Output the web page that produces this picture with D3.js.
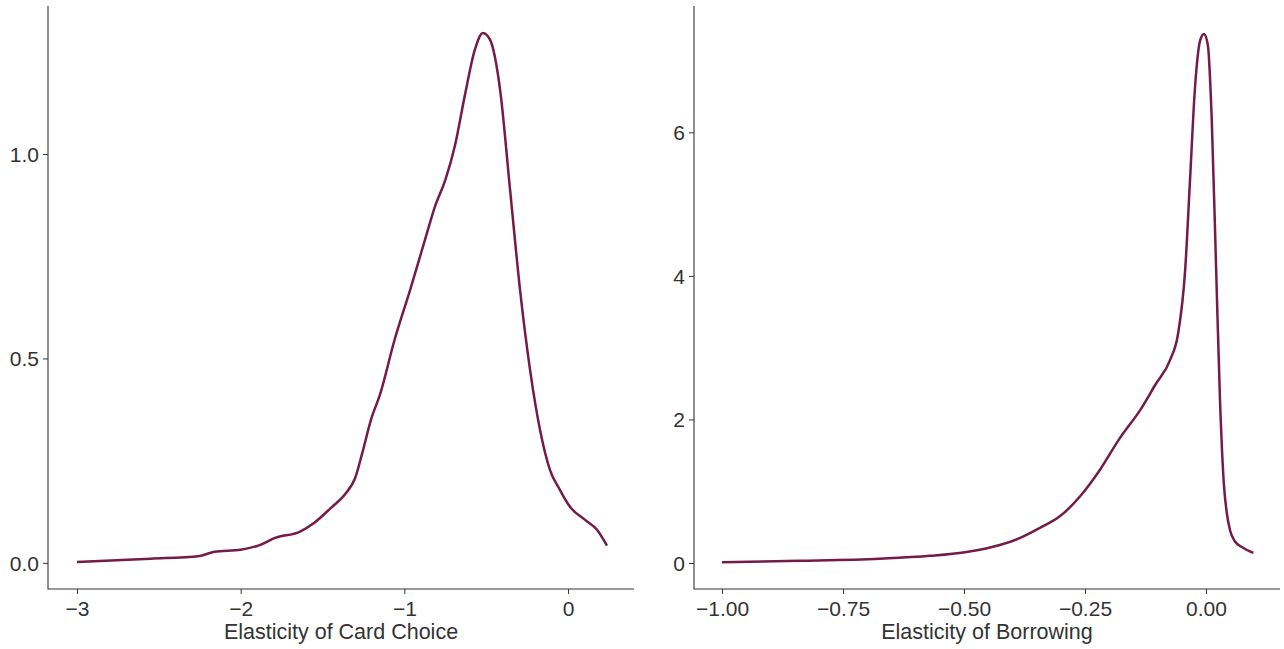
<!DOCTYPE html>
<html>
<head>
<meta charset="utf-8">
<script src="https://cdn.jsdelivr.net/npm/d3@7"></script>
<style>
  body { margin: 0; background: #fff; }
  svg { display: block; font-family: "Liberation Sans", Arial, sans-serif; }
  .tick text { fill: #333; font-size: 21px; }
  .tick line { stroke: #333; }
  .domain { display: none; }
</style>
</head>
<body>
<svg id="chart" width="1284" height="649"></svg>
<script>
// Density of card choice elasticity (left panel)
const cardX = [-3.0, -2.55, -2.25, -2.16, -2.0, -1.88, -1.79, -1.64, -1.55, -1.45, -1.36, -1.30, -1.26,
  -1.20, -1.15, -1.06, -0.965, -0.874, -0.81, -0.75, -0.69, -0.63, -0.57, -0.52, -0.476, -0.415,
  -0.354, -0.293, -0.232, -0.171, -0.11, -0.049, 0.012, 0.104, 0.177, 0.238];
const cardY = [0.002, 0.01, 0.017, 0.027, 0.032, 0.044, 0.061, 0.076, 0.098, 0.134, 0.169, 0.208, 0.264,
  0.355, 0.41, 0.545, 0.667, 0.79, 0.875, 0.936, 1.022, 1.144, 1.254, 1.296, 1.279, 1.157,
  0.912, 0.667, 0.472, 0.325, 0.227, 0.178, 0.137, 0.105, 0.081, 0.042];

// Density of borrowing elasticity (right panel)
const borrowX = [-1.0, -0.839, -0.674, -0.57, -0.498, -0.426, -0.384, -0.343, -0.302, -0.26, -0.219,
  -0.178, -0.136, -0.105, -0.074, -0.058, -0.043, -0.033, -0.023, -0.012, -0.004, 0.004, 0.012,
  0.021, 0.029, 0.037, 0.043, 0.05, 0.06, 0.075, 0.098];
const borrowY = [0.01, 0.03, 0.06, 0.10, 0.15, 0.25, 0.35, 0.49, 0.65, 0.93, 1.30,
  1.74, 2.13, 2.48, 2.83, 3.18, 4.08, 5.33, 6.59, 7.28, 7.37, 7.21, 6.17,
  4.10, 2.27, 1.10, 0.70, 0.45, 0.30, 0.22, 0.14];

const cardTicksX = [-3, -2, -1, 0];
const cardTicksY = [0, 0.5, 1.0];
const borrowTicksX = [-1, -0.75, -0.5, -0.25, 0];
const borrowTicksY = [0, 2, 4, 6];

const svg = d3.select('#chart');
const lineColor = '#741b47';
const axisColor = '#333';

function drawPanel(opts) {
    const xScale = d3.scaleLinear().domain(opts.xDomain).range([opts.left, opts.right]);
    const yScale = d3.scaleLinear().domain(opts.yDomain).range([589, 6]);

    const xAxis = svg.append('g')
        .attr('transform', 'translate(0,589)')
        .call(d3.axisBottom(xScale).tickValues(opts.ticksX).tickFormat(opts.fmtX).tickSizeOuter(0).tickSize(5).tickPadding(5));
    const yAxis = svg.append('g')
        .attr('transform', `translate(${opts.left},0)`)
        .call(d3.axisLeft(yScale).tickValues(opts.ticksY).tickFormat(opts.fmtY).tickSizeOuter(0).tickSize(5).tickPadding(4));

    // real minus sign like the reference
    xAxis.selectAll('.tick text').text(function () { return this.textContent.replace('-', '\u2212'); });
    xAxis.selectAll('.tick text').attr('dy', '0.8em');
    yAxis.selectAll('.tick text').attr('dy', '0.35em');

    // axis lines meeting at the corner
    svg.append('path')
        .attr('d', `M${opts.left},6V589H${opts.right}`)
        .attr('fill', 'none')
        .attr('stroke', axisColor)
        .attr('stroke-width', 1.1);

    const data = opts.xs.map((x, i) => [x, opts.ys[i]]);
    svg.append('path')
        .datum(data)
        .attr('fill', 'none')
        .attr('stroke', lineColor)
        .attr('stroke-width', 2.5)
        .attr('stroke-linejoin', 'round')
        .attr('d', d3.line().x(d => xScale(d[0])).y(d => yScale(d[1])).curve(d3.curveMonotoneX));

    svg.append('text')
        .attr('x', (opts.left + opts.right) / 2)
        .attr('y', 639)
        .attr('text-anchor', 'middle')
        .attr('font-size', 21.5)
        .attr('fill', axisColor)
        .text(opts.title);
}

drawPanel({
    left: 48, right: 634,
    xDomain: [-3.177, 0.403], yDomain: [-0.064, 1.362],
    ticksX: cardTicksX, ticksY: cardTicksY,
    fmtX: d3.format('d'), fmtY: d3.format('.1f'),
    xs: cardX, ys: cardY,
    title: 'Elasticity of Card Choice'
});

drawPanel({
    left: 694, right: 1280,
    xDomain: [-1.058, 0.153], yDomain: [-0.362, 7.76],
    ticksX: borrowTicksX, ticksY: borrowTicksY,
    fmtX: d3.format('.2f'), fmtY: d3.format('d'),
    xs: borrowX, ys: borrowY,
    title: 'Elasticity of Borrowing'
});
</script>
</body>
</html>
